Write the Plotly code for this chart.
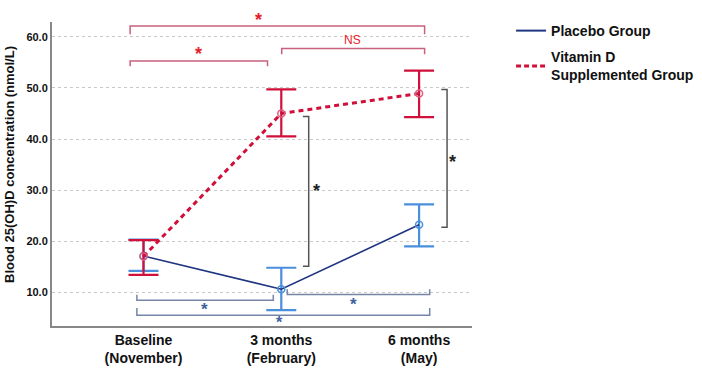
import plotly.graph_objects as go

# ---- data ----
timepoints = ["Baseline<br>(November)", "3 months<br>(February)", "6 months<br>(May)"]
placebo_mean = [17.1, 10.6, 23.2]
placebo_upper = [20.3, 14.8, 27.2]
placebo_lower = [14.2, 6.5, 19.0]
vitd_mean = [17.0, 45.0, 48.9]
vitd_upper = [20.2, 49.7, 53.4]
vitd_lower = [13.4, 40.5, 44.3]
y_ticks = [10, 20, 30, 40, 50, 60]
series_names = ["Placebo Group", "Vitamin D<br>Supplemented Group"]
y_title = "Blood 25(OH)D concentration (nmol/L)"

xs = list(range(len(timepoints)))
Y_RANGE = [3.4, 62.9]

BLUE_LINE = "#1f3580"
BLUE_ERR = "#4a8fdc"
RED = "#d0103a"
RED_BR = "#c8607e"
RED_STAR = "#e8202a"
GRAY_BR = "#555555"
BLUE_BR = "#7585a8"
BLUE_STAR = "#40609e"

fig = go.Figure()

fig.add_trace(go.Scatter(
    x=xs, y=placebo_mean, mode="lines+markers", name=series_names[0], showlegend=False,
    line=dict(color=BLUE_LINE, width=1.6),
    marker=dict(symbol="circle-open", size=7, color=BLUE_ERR, line=dict(width=1.5)),
    error_y=dict(type="data", symmetric=False,
                 array=[u - m for u, m in zip(placebo_upper, placebo_mean)],
                 arrayminus=[m - l for m, l in zip(placebo_mean, placebo_lower)],
                 color=BLUE_ERR, thickness=2.2, width=15),
))
fig.add_trace(go.Scatter(
    x=xs, y=vitd_mean, mode="lines+markers", name=series_names[1], showlegend=False,
    line=dict(color=RED, width=3, dash="5px,4px"),
    marker=dict(symbol="circle-open", size=7, color="#e05a80", line=dict(width=1.5)),
    error_y=dict(type="data", symmetric=False,
                 array=[u - m for u, m in zip(vitd_upper, vitd_mean)],
                 arrayminus=[m - l for m, l in zip(vitd_mean, vitd_lower)],
                 color=RED, thickness=2.2, width=15),
))
# legend entries (line only, as in the reference)
fig.add_trace(go.Scatter(x=[None], y=[None], mode="lines", name=series_names[0],
                         legendgroup="a", line=dict(color=BLUE_LINE, width=2)))
fig.add_trace(go.Scatter(x=[None], y=[None], mode="lines", name=series_names[1],
                         legendgroup="b", line=dict(color=RED, width=3, dash="5px,3px")))

shapes = []

def bracket_down(x0, x1, y, tick, color):
    shapes.append(dict(type="path", xref="x", yref="y",
                       path=f"M {x0} {y - tick} L {x0} {y} L {x1} {y} L {x1} {y - tick}",
                       line=dict(color=color, width=1.5)))

def bracket_up(x0, x1, y, tick, color):
    shapes.append(dict(type="path", xref="x", yref="y",
                       path=f"M {x0} {y + tick} L {x0} {y} L {x1} {y} L {x1} {y + tick}",
                       line=dict(color=color, width=1.5)))

def bracket_right(x, y0, y1, dx, color):
    shapes.append(dict(type="path", xref="x", yref="y",
                       path=f"M {x - dx} {y0} L {x} {y0} L {x} {y1} L {x - dx} {y1}",
                       line=dict(color=color, width=1.5)))

# red brackets (vitamin D group)
bracket_down(-0.097, 2.04, 62.1, 1.6, RED_BR)
bracket_down(-0.097, 0.90, 55.25, 1.0, RED_BR)
bracket_down(1.003, 2.04, 57.7, 1.1, RED_BR)
# gray between-group brackets
bracket_right(1.199, 44.4, 15.1, 0.042, GRAY_BR)
bracket_right(2.203, 49.7, 22.75, 0.042, GRAY_BR)
# blue brackets (placebo group)
bracket_up(-0.048, 0.942, 8.44, 1.1, BLUE_BR)
bracket_up(1.043, 2.077, 9.55, 1.05, BLUE_BR)
bracket_up(-0.048, 2.077, 5.5, 1.4, BLUE_BR)

annotations = []

def label(x, y, text, color, size=18, weight="bold"):
    # positions given in data units; vertical placed on paper so off-range labels still show
    ypaper = (y - Y_RANGE[0]) / (Y_RANGE[1] - Y_RANGE[0])
    annotations.append(dict(x=x, y=ypaper, xref="x", yref="paper", text=text, showarrow=False,
                            font=dict(color=color, size=size, family="Arial", weight=weight),
                            xanchor="center", yanchor="middle"))

label(0.838, 63.3, "*", RED_STAR)
label(0.40, 56.7, "*", RED_STAR)
label(1.517, 59.35, "NS", RED_STAR, 12, "normal")
label(1.257, 29.9, "*", "#222222")
label(2.246, 35.5, "*", "#222222")
label(0.44, 6.7, "*", BLUE_STAR, 17)
label(1.522, 7.7, "*", BLUE_STAR, 17)
label(0.99, 4.0, "*", BLUE_STAR, 16)

# y-axis title as a rotated text placed close to the left edge
annotations.append(dict(x=-0.1, y=0.53, xref="paper", yref="paper", text=y_title,
                        textangle=-90, showarrow=False, xanchor="center", yanchor="middle",
                        font=dict(size=13, weight="bold", color="#111111", family="Arial")))

fig.update_layout(
    width=702, height=371,
    margin=dict(l=52, r=230, t=22, b=45, autoexpand=False),
    paper_bgcolor="white", plot_bgcolor="white",
    font=dict(family="Arial", color="#111111"),
    shapes=shapes, annotations=annotations,
    legend=dict(x=1.093, y=1.023, xanchor="left", yanchor="top",
                font=dict(size=14, weight="bold", color="#111111"),
                itemwidth=30, tracegroupgap=5),
    xaxis=dict(range=[-0.664, 2.384], tickvals=xs, ticktext=timepoints, automargin=False,
               showgrid=False, zeroline=False, showline=True, linecolor="#888888",
               linewidth=2, ticks="", tickfont=dict(size=14, weight="bold")),
    yaxis=dict(range=Y_RANGE, tickvals=y_ticks, automargin=False,
               ticktext=[f"{v:.1f}" for v in y_ticks],
               showgrid=True, gridcolor="#c8c8c8", griddash="dot", gridwidth=1,
               zeroline=False, showline=True, linecolor="#888888", linewidth=2,
               ticks="", tickfont=dict(size=11, weight="bold")),
)

# remove the default page margin so the figure fills the window exactly
fig.write_html("out.html", config={"displayModeBar": False},
               post_script="document.body.style.margin='0';document.body.style.overflow='hidden';")
